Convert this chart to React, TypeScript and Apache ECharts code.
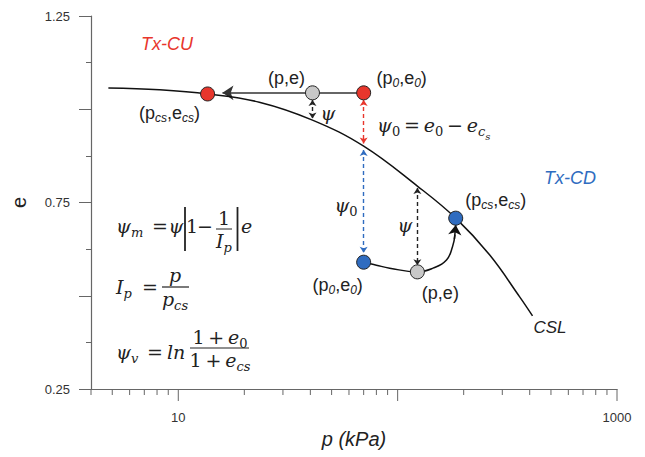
import React, { useEffect, useRef } from "react";
import * as echarts from "echarts";

// Critical state line in e – log p space
const cslPressure = [4.8, 8.2, 13.6, 23.4, 40.9, 70, 123, 184, 263, 360, 412];
const cslVoid = [1.057, 1.052, 1.041, 1.019, 0.971, 0.901, 0.794, 0.708, 0.609, 0.497, 0.446];

// Undrained (Tx-CU) stress path: from (p0,e0) at constant e towards the CSL
const cuStart = [70, 1.044];
const cuEnd = [15.9, 1.044];

// Drained (Tx-CD) stress path
const cdPressure = [70, 80, 92, 123, 145, 167, 178, 182.5];
const cdVoid = [0.59, 0.582, 0.574, 0.564, 0.574, 0.596, 0.632, 0.664];
const cdHead = [[181.5, 0.652], [184, 0.69]];

// State points: CU (p0,e0), CU (p,e), CU (pcs,ecs), CD (p0,e0), CD (p,e), CD (pcs,ecs)
const pointPressure = [70, 40.9, 13.6, 70, 123, 184];
const pointVoid = [1.044, 1.044, 1.041, 0.59, 0.564, 0.708];
const pointLabels = [
  "{b|(p}{s|0}{b|,e}{s|0}{b|)}",
  "{b|(p,e)}",
  "{b|(p}{s|cs}{b|,e}{s|cs}{b|)}",
  "{b|(p}{s|0}{b|,e}{s|0}{b|)}",
  "{b|(p,e)}",
  "{b|(p}{s|cs}{b|,e}{s|cs}{b|)}",
];

// State parameter spans (psi) drawn as double arrows
const psiPressure = [70, 40.9, 70, 123];
const psiTop = [1.025, 1.025, 0.891, 0.789];
const psiBottom = [0.908, 0.975, 0.615, 0.582];

// Log-axis ticks
const xMajorTicks = [10, 100, 1000];
const xMinorTicks = [4, 5, 6, 7, 8, 9, 20, 30, 40, 50, 60, 70, 80, 90, 200, 300, 400, 500, 600, 700, 800, 900];
const xLabelled = [10, 1000];
const yLabelled = [0.25, 0.75, 1.25];

const RED = "#e8362c";
const BLUE = "#2f6cc0";
const GRAY = "#c8c8c8";
const INK = "#222";
const SANS = "Liberation Sans, Arial, sans-serif";
const SERIF = "DejaVu Serif, Liberation Serif, serif";
const THIN = "\u2009";

const pointFill = [RED, GRAY, RED, BLUE, GRAY, BLUE];
const labelOffset = [
  [38, -15],
  [-26, -15],
  [-38, 19],
  [-26, 23],
  [23, 21],
  [40, -18],
];

const mathRich = {
  i: { fontFamily: SERIF, fontStyle: "italic", fontSize: 19, fill: INK, color: INK },
  r: { fontFamily: SERIF, fontSize: 19, fill: INK, color: INK },
  s: { fontFamily: SERIF, fontStyle: "italic", fontSize: 13, fill: INK, color: INK, padding: [12, 0, 0, 0] },
  z: { fontFamily: SERIF, fontSize: 13, fill: INK, color: INK, padding: [12, 0, 0, 0] },
  t: { fontFamily: SERIF, fontStyle: "italic", fontSize: 10, fill: INK, color: INK, padding: [22, 0, 0, 0] },
};

function mathText(x: number, y: number, text: string, align = "left") {
  return {
    type: "text",
    x,
    y,
    silent: true,
    style: { text, rich: mathRich, align, verticalAlign: "middle", fill: INK },
  };
}

function rule(x1: number, y1: number, x2: number, y2: number, w = 1.3) {
  return {
    type: "line",
    silent: true,
    shape: { x1, y1, x2, y2 },
    style: { stroke: INK, lineWidth: w },
  };
}

function plainText(x: number, y: number, text: string, color: string, size: number) {
  return {
    type: "text",
    x,
    y,
    silent: true,
    style: {
      text,
      fill: color,
      font: `italic ${size}px ${SANS}`,
      align: "center",
      verticalAlign: "middle",
    },
  };
}

export default function App() {
  const ref = useRef<HTMLDivElement>(null);

  useEffect(() => {
    if (!ref.current) return;
    const chart = echarts.init(ref.current, undefined, { renderer: "svg" });

    const dashColors = [RED, INK, BLUE, INK];

    const option = {
      animation: false,
      backgroundColor: "#fff",
      grid: { left: 91, right: 28, top: 16, bottom: 68 },
      xAxis: {
        type: "log",
        logBase: 10,
        min: 4,
        max: 1000,
        name: "p (kPa)",
        nameLocation: "middle",
        nameGap: 40,
        nameTextStyle: { fontFamily: SANS, fontStyle: "italic", fontSize: 20, color: INK },
        axisLine: { lineStyle: { color: "#666", width: 1.2 } },
        axisTick: { show: false },
        minorTick: { show: false },
        splitLine: { show: false },
        axisLabel: {
          margin: 22,
          fontFamily: SANS,
          fontSize: 13,
          color: "#333",
          showMinLabel: true,
          showMaxLabel: true,
          formatter: (v: number) => (xLabelled.includes(Math.round(v)) ? String(Math.round(v)) : ""),
        },
      },
      yAxis: {
        type: "value",
        min: 0.25,
        max: 1.25,
        interval: 0.25,
        name: "e",
        nameLocation: "middle",
        nameGap: 62,
        nameRotate: 90,
        nameTextStyle: { fontFamily: SANS, fontSize: 20, color: INK },
        axisLine: { show: true, lineStyle: { color: "#666", width: 1.2 } },
        axisTick: { show: true, length: 12, lineStyle: { color: "#666" } },
        minorTick: { show: true, splitNumber: 2, length: 5, lineStyle: { color: "#666" } },
        splitLine: { show: false },
        axisLabel: {
          margin: 21,
          fontFamily: SANS,
          fontSize: 13,
          color: "#333",
          formatter: (v: number) =>
            yLabelled.some((t) => Math.abs(t - v) < 1e-6) ? v.toFixed(2) : "",
        },
      },
      series: [
        {
          type: "custom",
          name: "x ticks",
          clip: false,
          silent: true,
          data: [
            ...xMajorTicks.map((v) => [v, 1]),
            ...xMinorTicks.map((v) => [v, 0]),
          ],
          encode: { x: 0 },
          renderItem: (_p: any, api: any) => {
            const pt = api.coord([api.value(0), 0.25]);
            const len = api.value(1) ? 12 : 6;
            return {
              type: "line",
              shape: { x1: pt[0], y1: pt[1], x2: pt[0], y2: pt[1] + len },
              style: { stroke: "#666", lineWidth: 1 },
            };
          },
        },
        {
          type: "line",
          name: "CSL",
          data: cslPressure.map((p, i) => [p, cslVoid[i]]),
          smooth: 0.4,
          showSymbol: false,
          symbol: "none",
          lineStyle: { color: "#111", width: 1.5 },
          z: 3,
        },
        {
          type: "line",
          name: "Tx-CD path",
          data: cdPressure.map((p, i) => [p, cdVoid[i]]),
          smooth: 0.45,
          symbol: "none",
          lineStyle: { color: "#111", width: 1.5 },
          z: 3,
        },
        {
          type: "lines",
          coordinateSystem: "cartesian2d",
          silent: true,
          symbol: ["none", "arrow"],
          symbolSize: 10,
          lineStyle: { color: "#111", width: 1.5, opacity: 1 },
          data: [{ coords: cdHead }],
          z: 3,
        },
        {
          type: "lines",
          coordinateSystem: "cartesian2d",
          silent: true,
          symbol: ["none", "arrow"],
          symbolSize: 11,
          lineStyle: { color: "#333", width: 1.6, opacity: 1 },
          data: [{ coords: [cuStart, cuEnd] }],
          z: 3,
        },
        {
          type: "lines",
          coordinateSystem: "cartesian2d",
          silent: true,
          symbol: ["arrow", "arrow"],
          symbolSize: 6,
          data: psiPressure.map((p, i) => ({
            coords: [
              [p, psiTop[i]],
              [p, psiBottom[i]],
            ],
            lineStyle: { color: dashColors[i], width: 1.4, type: [4, 3], opacity: 1 },
          })),
          z: 4,
        },
        {
          type: "scatter",
          name: "states",
          symbolSize: 14,
          z: 5,
          data: pointPressure.map((p, i) => ({
            value: [p, pointVoid[i]],
            itemStyle: { color: pointFill[i], borderColor: "#222", borderWidth: 1, opacity: 1 },
            label: {
              show: true,
              position: "inside",
              offset: labelOffset[i],
              align: "center",
              verticalAlign: "middle",
              formatter: pointLabels[i],
              rich: {
                b: { fontFamily: SANS, fontSize: 18, color: INK },
                s: { fontFamily: SANS, fontStyle: "italic", fontSize: 12, color: INK, padding: [10, 0, 0, 0] },
              },
            },
          })),
        },
      ],
      graphic: [
        plainText(167, 44, "Tx-CU", RED, 18),
        plainText(570, 178, "Tx-CD", BLUE, 18),
        plainText(550, 327, "CSL", INK, 17),
        // psi annotations beside the arrows
        mathText(328, 113, "{i|ψ}", "center"),
        mathText(405, 225, "{i|ψ}", "center"),
        mathText(346, 205, "{i|ψ}{z|0}", "center"),
        mathText(
          377,
          125,
          `{i|ψ}{z|0}{r|${THIN}=${THIN}}{i|e}{z|0}{r|${THIN}−${THIN}}{i|e}{s|c}{t|s}`
        ),
        // psi_m = psi |1 - 1/I_p| e
        mathText(116, 226, "{i|ψ}{s|m}"),
        mathText(160, 226, "{r|=}", "center"),
        mathText(176, 226, "{i|ψ}", "center"),
        rule(185, 207, 185, 251, 1.8),
        mathText(192, 226, "{r|1}", "center"),
        mathText(205, 226, "{r|−}", "center"),
        mathText(224, 218, "{r|1}", "center"),
        rule(216, 229, 232, 229, 1),
        mathText(224, 241, "{i|I}{s|p}", "center"),
        rule(237.5, 207, 237.5, 251, 1.8),
        mathText(241, 226, "{i|e}"),
        // I_p = p / p_cs
        mathText(116, 287, "{i|I}{s|p}"),
        mathText(150, 287, "{r|=}", "center"),
        mathText(175, 275, "{i|p}", "center"),
        rule(162, 287, 189, 287, 1.2),
        mathText(175, 299, "{i|p}{s|cs}", "center"),
        // psi_v = ln (1+e0)/(1+ecs)
        mathText(116, 352, "{i|ψ}{s|v}"),
        mathText(155, 352, "{r|=}", "center"),
        mathText(167, 352, "{i|ln}"),
        mathText(220, 337, `{r|1${THIN}+${THIN}}{i|e}{z|0}`, "center"),
        rule(190, 348, 249, 348, 1.2),
        mathText(220, 360, `{r|1${THIN}+${THIN}}{i|e}{s|cs}`, "center"),
      ],
    };

    chart.setOption(option as any);
    return () => chart.dispose();
  }, []);

  return (
    <div
      ref={ref}
      style={{ position: "absolute", left: 0, top: 0, width: 645, height: 457, background: "#fff" }}
    />
  );
}
